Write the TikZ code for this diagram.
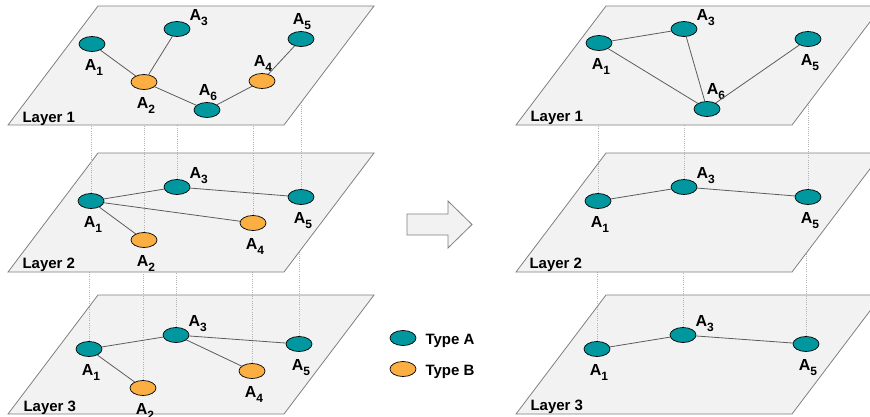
\documentclass[tikz,border=0pt]{standalone}
\usepackage{fontspec}
\setmainfont{Liberation Sans}
\usetikzlibrary{calc,shapes.geometric}
\definecolor{tealA}{HTML}{00979E}
\definecolor{orangeB}{HTML}{FBAF42}
\definecolor{planefill}{HTML}{F2F2F2}
\definecolor{planeline}{HTML}{808080}
\definecolor{linkgray}{HTML}{5C5C5C}
\newcommand{\agent}[1]{{\fontsize{16}{16}\selectfont A}\raisebox{-5pt}{\fontsize{12}{12}\selectfont #1}}

\begin{document}
\begin{tikzpicture}[x=1pt,y=-1pt,
	every node/.style={font=\bfseries\fontsize{15}{15}\selectfont},
	nodeA/.style={ellipse,draw=black,line width=0.7pt,fill=tealA,minimum width=26pt,minimum height=15pt,inner sep=0pt},
	nodeB/.style={nodeA,fill=orangeB},
	link/.style={draw=linkgray,line width=0.8pt},
	proj/.style={draw=gray!60,line width=0.6pt,dash pattern=on 1pt off 1.2pt},
	plane/.style={fill=planefill,draw=planeline,line width=0.8pt},
	lbl/.style={inner sep=1pt},
	lb/.style={label={[lbl,xshift=2pt,label distance=6pt]below:\agent{#1}}},
	la/.style={label={[lbl,xshift=1pt]above:\agent{#1}}},
	lr/.style={label={[lbl,anchor=base west,xshift=-2pt,yshift=9pt]east:\agent{#1}}}]
			% page size of the reference
			\useasboundingbox (0,0) rectangle (870,416);
			\clip (0,0) rectangle (870,416);
			% plane width, height and slant
			\pgfmathsetmacro{\pw}{276}
			\pgfmathsetmacro{\ph}{119}
			\pgfmathsetmacro{\ps}{90}
			% heights where the dotted lines end (inside the plane above)
			\coordinate (mid1) at (0,65);
			\coordinate (mid2) at (0,212);
			
			% ---- left stack, layer 3
			\filldraw[plane] (8,414) -- ++(\pw,0) -- ++(\ps,-\ph) -- ++(-\pw,0) -- cycle;
			\node[anchor=base west] (lay3) at (20,411) {Layer 3};
			\node[nodeA,lb=1] (l3a1) at (89,349) {};
			\node[nodeB,lb=2] (l3a2) at (143,388) {};
			\node[nodeA,lr=3] (l3a3) at (176,335) {};
			\node[nodeB,lb=4] (l3a4) at (252,371) {};
			\node[nodeA,lb=5] (l3a5) at (299,344) {};
			\foreach \n in {a1,a2,a3,a4,a5}
				\draw[proj] (l3\n) -- (l3\n |- mid2);
			\foreach \s/\t in {a1/a3,a3/a5,a3/a4,a1/a2}
				\draw[link] (l3\s) -- (l3\t);
			
			% ---- left stack, layer 2
			\filldraw[plane] (8,272) -- ++(\pw,0) -- ++(\ps,-\ph) -- ++(-\pw,0) -- cycle;
			\node[anchor=base west] (lay2) at (19,268) {Layer 2};
			\node[nodeA,lb=1] (l2a1) at (91,201) {};
			\node[nodeB,lb=2] (l2a2) at (144,240) {};
			\node[nodeA,lr=3] (l2a3) at (177,187) {};
			\node[nodeB,lb=4] (l2a4) at (253,223) {};
			\node[nodeA,lb=5] (l2a5) at (301,197) {};
			\foreach \n in {a1,a2,a3,a4,a5}
				\draw[proj] (l2\n) -- (l2\n |- mid1);
			\foreach \s/\t in {a1/a3,a3/a5,a1/a4,a1/a2}
				\draw[link] (l2\s) -- (l2\t);
			
			% ---- left stack, layer 1
			\filldraw[plane] (8,125) -- ++(\pw,0) -- ++(\ps,-\ph) -- ++(-\pw,0) -- cycle;
			\node[anchor=base west] (lay1) at (19,122) {Layer 1};
			\node[nodeA,lb=1] (l1a1) at (92,44) {};
			\node[nodeB,lb=2] (l1a2) at (144,82) {};
			\node[nodeA,lr=3] (l1a3) at (177,29) {};
			\node[nodeB,la=4] (l1a4) at (262,81) {};
			\node[nodeA,la=5] (l1a5) at (301,39) {};
			\node[nodeA,la=6] (l1a6) at (207,110) {};
			\foreach \s/\t in {a1/a2,a2/a3,a2/a6,a6/a4,a4/a5}
				\draw[link] (l1\s) -- (l1\t);
			
			% ---- right stack, layer 3
			\filldraw[plane] (516,414) -- ++(\pw,0) -- ++(\ps,-\ph) -- ++(-\pw,0) -- cycle;
			\node[anchor=base west] (ray3) at (527,410) {Layer 3};
			\node[nodeA,lb=1] (r3a1) at (597,349) {};
			\node[nodeA,lr=3] (r3a3) at (683,335) {};
			\node[nodeA,lb=5] (r3a5) at (806,344) {};
			\foreach \n in {a1,a3,a5}
				\draw[proj] (r3\n) -- (r3\n |- mid2);
			\foreach \s/\t in {a1/a3,a3/a5}
				\draw[link] (r3\s) -- (r3\t);
			
			% ---- right stack, layer 2
			\filldraw[plane] (516,272) -- ++(\pw,0) -- ++(\ps,-\ph) -- ++(-\pw,0) -- cycle;
			\node[anchor=base west] (ray2) at (526,268) {Layer 2};
			\node[nodeA,lb=1] (r2a1) at (598,201) {};
			\node[nodeA,lr=3] (r2a3) at (684,187) {};
			\node[nodeA,lb=5] (r2a5) at (808,197) {};
			\foreach \n in {a1,a3,a5}
				\draw[proj] (r2\n) -- (r2\n |- mid1);
			\foreach \s/\t in {a1/a3,a3/a5}
				\draw[link] (r2\s) -- (r2\t);
			
			% ---- right stack, layer 1
			\filldraw[plane] (516,125) -- ++(\pw,0) -- ++(\ps,-\ph) -- ++(-\pw,0) -- cycle;
			\node[anchor=base west] (ray1) at (527,121) {Layer 1};
			\node[nodeA,lb=1] (r1a1) at (599,43) {};
			\node[nodeA,lr=3] (r1a3) at (684,29) {};
			\node[nodeA,lb=5] (r1a5) at (808,39) {};
			\node[nodeA,label={[lbl,xshift=9pt]above:\agent{6}}] (r1a6) at (707,109) {};
			\foreach \s/\t in {a1/a3,a1/a6,a3/a6,a6/a5}
				\draw[link] (r1\s) -- (r1\t);
			
			% block arrow between the stacks
			\filldraw[plane] (407,214) -- (448,214) -- (448,201) -- (472,224.5)
				-- (448,248) -- (448,235) -- (407,235) -- cycle;
			
			% legend
			\node[nodeA] (keyA) at (403,338) {};
			\node[anchor=base west] (txtA) at (422,344) {Type A};
			\node[nodeB] (keyB) at (403,369) {};
			\node[anchor=base west] (txtB) at (422,375) {Type B};
		\end{tikzpicture}
\end{document}
